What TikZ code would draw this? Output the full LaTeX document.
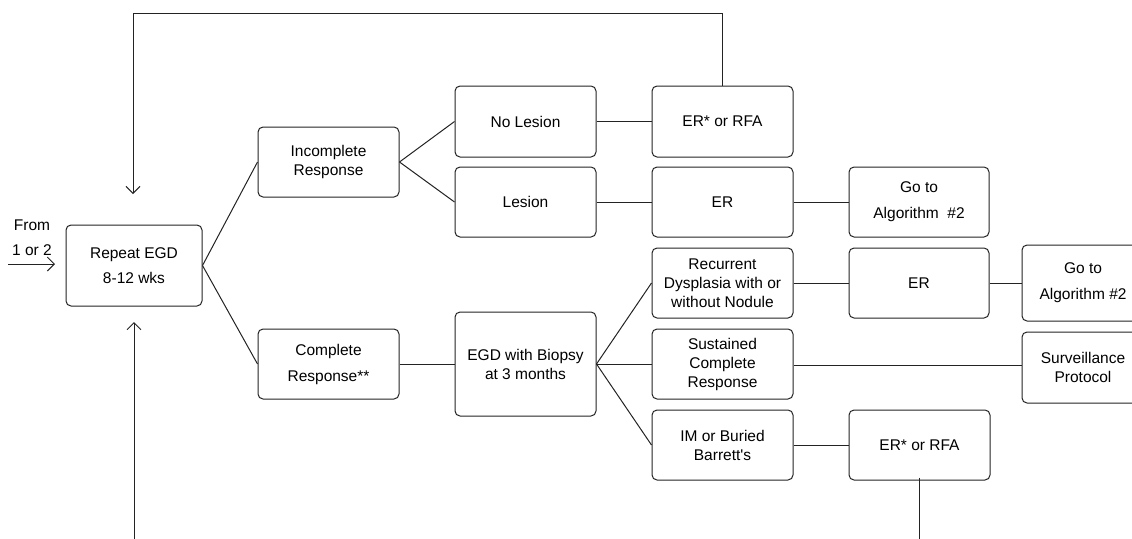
\documentclass[tikz,border=0pt]{standalone}
\usepackage{fontspec}
\setmainfont{Liberation Sans}
\usetikzlibrary{arrows.meta}
\definecolor{ink}{RGB}{35,35,35}
\begin{document}
\begin{tikzpicture}[x=1pt,y=-1pt,
  box/.style={draw=ink, line width=1pt, rounded corners=5pt, inner sep=0pt,
    align=center, text=black, font=\fontsize{15.5}{19}\selectfont,
    minimum width=141pt, minimum height=70pt},
  link/.style={draw=ink, line width=1pt},
  arr/.style={link, -{Straight Barb[length=7pt,width=14pt,line width=1pt]}},
  lbl/.style={inner sep=0pt, font=\fontsize{15.5}{19}\selectfont, text=black}]
\useasboundingbox (0,0) rectangle (1132,538);
% nodes
\node[box, minimum width=136pt, minimum height=81pt] (rep) at (134,265.5)
  {Repeat EGD\\[6pt]8-12 wks};
\node[box] (inc) at (328.5,162) {Incomplete\\Response};
\node[box] (comp) at (328.5,364) {Complete\\[7pt]Response**};
\node[box, minimum height=71pt] (nol) at (525.5,121.5) {No Lesion};
\node[box] (les) at (525.5,202) {Lesion};
\node[box, minimum height=71pt] (er1) at (722.5,121.5) {ER* or RFA};
\node[box] (er2) at (722.5,202) {ER};
\node[box, minimum width=140pt] (go1) at (919,202) {Go to\\[7pt]Algorithm\ \ \#2};
\node[box, minimum height=104pt] (egdb) at (525.5,364) {EGD with Biopsy\\at 3 months};
\node[box] (rec) at (722.5,283) {Recurrent\\Dysplasia with or\\without Nodule};
\node[box] (sus) at (722.5,364) {Sustained\\Complete\\Response};
\node[box] (im) at (722.5,445) {IM or Buried\\Barrett\textquotesingle s};
\node[box, minimum width=140pt] (er3) at (919,283) {ER};
\node[box] (er4) at (919.5,445) {ER* or RFA};
\node[box, minimum width=122pt, minimum height=76pt] (go2) at (1083,283) {Go to\\[7pt]Algorithm \#2};
\node[box, minimum width=122pt, minimum height=71pt] (surv) at (1083,367.5) {Surveillance\\Protocol};
\node[lbl] (from) at (32,225) {From};
\node[lbl] (oneortwo) at (32,250) {1 or 2};
% free ends
\coordinate (fromstart) at (8,264);
\coordinate (fromend) at (55,264);
\coordinate (topleft) at (133,13);
\coordinate (intop) at (133,194);
\coordinate (botstart) at (134,540);
\coordinate (inbot) at (134,322);
\coordinate (er4end) at (919.5,540);
% connectors
\draw[arr] (fromstart) -- (fromend);
\draw[link] (rep.east) -- (inc.west);
\draw[link] (rep.east) -- (comp.west);
\draw[link] (inc.east) -- (nol.west);
\draw[link] (inc.east) -- (les.west);
\draw[link] (nol.east) -- (er1.west);
\draw[link] (les.east) -- (er2.west);
\draw[link] (er2.east) -- (go1.west);
\draw[link] (comp.east) -- (egdb.west);
\draw[link] (egdb.east) -- (rec.west);
\draw[link] (egdb.east) -- (sus.west);
\draw[link] (egdb.east) -- (im.west);
\draw[link] (rec.east) -- (er3.west);
\draw[link] (er3.east) -- (go2.west);
\draw[link] ([yshift=2.5pt]surv.west) -- ([yshift=2.5pt]surv.west -| sus.east);
\draw[link] (im.east) -- (er4.west);
\draw[link] ([yshift=3pt]er4.south) -- (er4end);
\draw[arr] (er1.north) |- (topleft) -- (intop);
\draw[arr] (botstart) -- (inbot);
\end{tikzpicture}
\end{document}
